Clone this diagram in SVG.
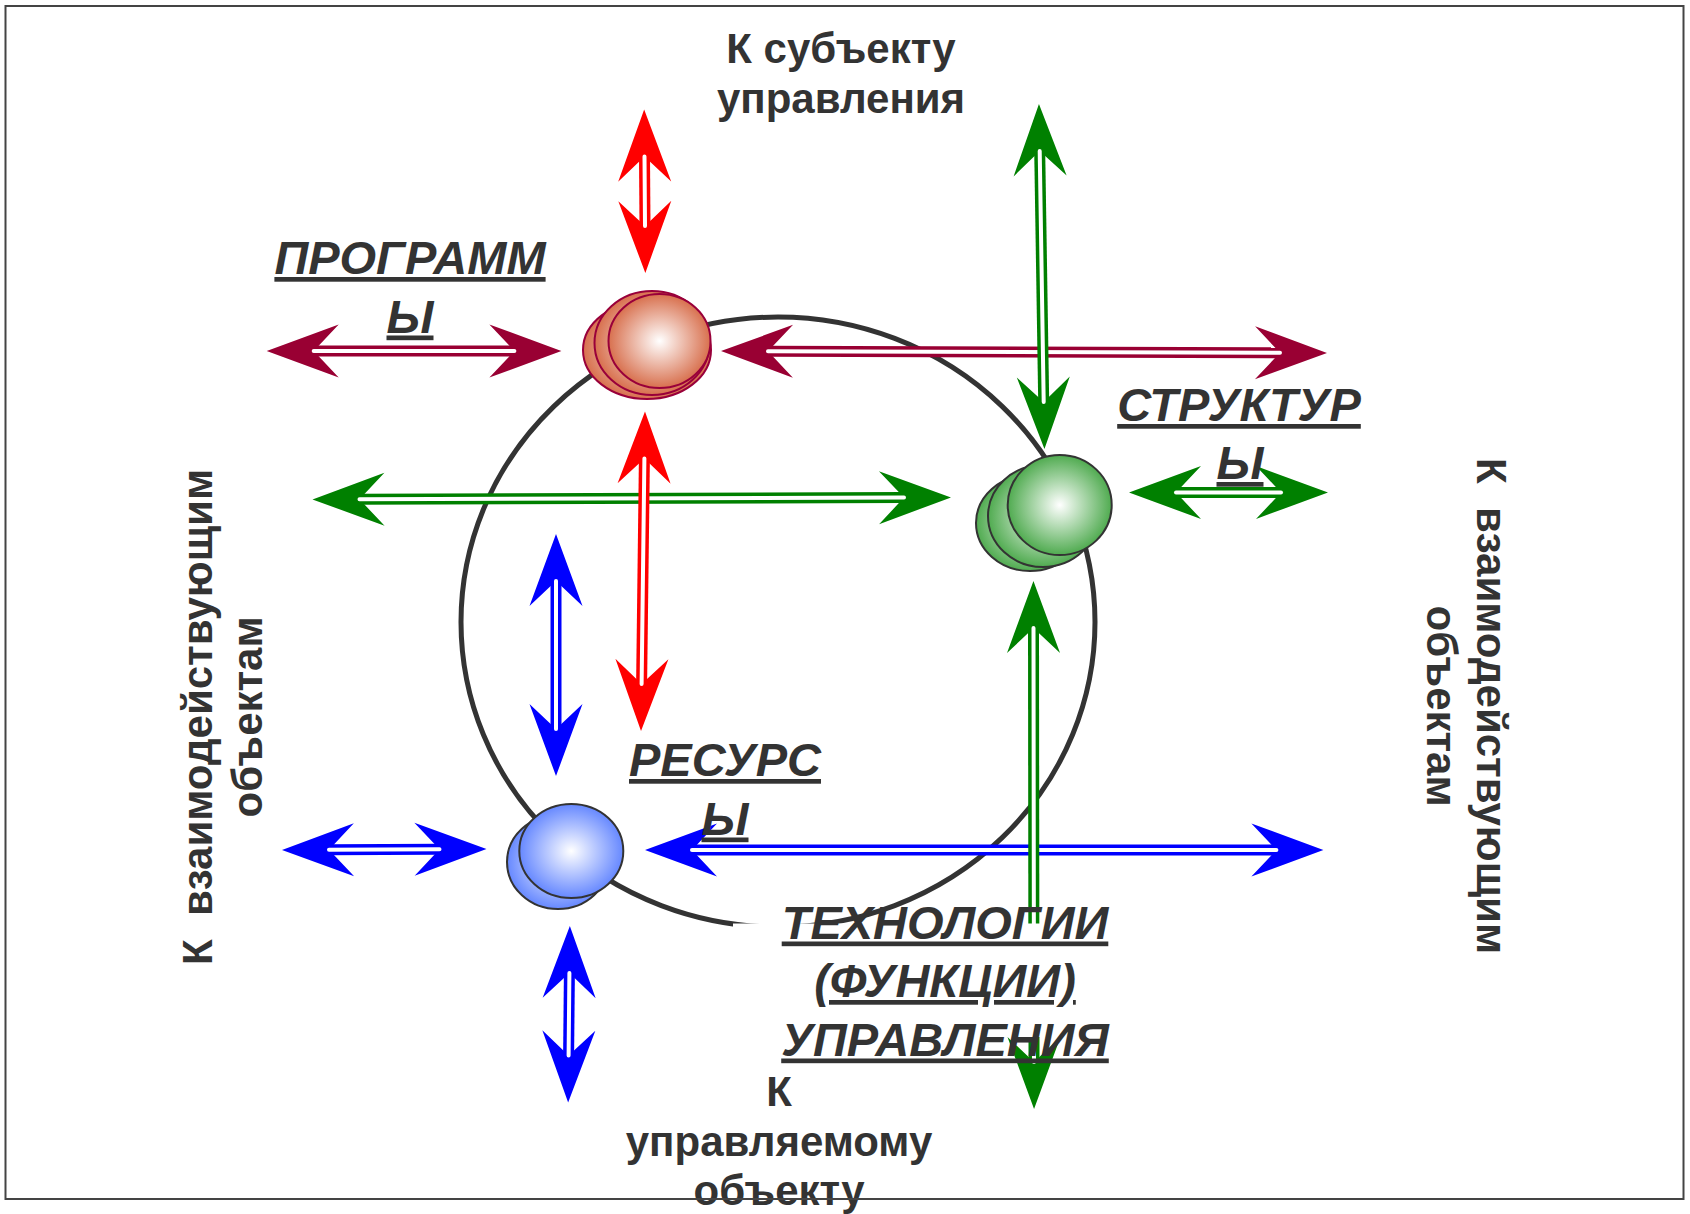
<svg xmlns="http://www.w3.org/2000/svg" width="1690" height="1214" viewBox="0 0 1690 1214">
<defs>
<style>
.bg{fill:#fff}
.frame{fill:none;stroke:#444;stroke-width:2}
.orbit{fill:none;stroke:#333;stroke-width:5}
.t{font-family:"Liberation Sans",Arial,sans-serif;font-weight:bold;font-size:42px;fill:#333;text-anchor:middle}
.lbl{font-family:"Liberation Sans",Arial,sans-serif;font-weight:bold;font-style:italic;font-size:47px;fill:#333;text-anchor:middle;text-decoration:underline;text-decoration-skip-ink:none;text-decoration-thickness:4px}
.shaft{fill:none;stroke-width:11;stroke-linecap:butt}
.gap{fill:none;stroke:#fff;stroke-width:4;stroke-linecap:round}
.s-red{stroke:#ff0000}
.s-crim{stroke:#990033}
.s-grn{stroke:#008000}
.s-blu{stroke:#0000ff}
.b-red{fill:url(#gRed);stroke:#99003a;stroke-width:2}
.b-grn{fill:url(#gGrn);stroke:#333;stroke-width:2}
.b-blu{fill:url(#gBlu);stroke:#333;stroke-width:2}
</style>
<radialGradient id="gRed" cx="50%" cy="50%" r="50%"><stop offset="0" stop-color="#ffffff"/><stop offset="1" stop-color="#d8704e"/></radialGradient>
<radialGradient id="gGrn" cx="50%" cy="50%" r="50%"><stop offset="0" stop-color="#ffffff"/><stop offset="1" stop-color="#50ab50"/></radialGradient>
<radialGradient id="gBlu" cx="50%" cy="50%" r="50%"><stop offset="0" stop-color="#ffffff"/><stop offset="1" stop-color="#6688ff"/></radialGradient>
<marker id="ah-red" markerUnits="userSpaceOnUse" viewBox="-26 -27 74 54" refX="0" refY="0" markerWidth="74" markerHeight="54" orient="auto-start-reverse"><path d="M47,0 L-25,-26.5 L0,0 L-25,26.5 Z" fill="#ff0000"/></marker>
<marker id="ah-crim" markerUnits="userSpaceOnUse" viewBox="-26 -27 74 54" refX="0" refY="0" markerWidth="74" markerHeight="54" orient="auto-start-reverse"><path d="M47,0 L-25,-26.5 L0,0 L-25,26.5 Z" fill="#990033"/></marker>
<marker id="ah-grn" markerUnits="userSpaceOnUse" viewBox="-26 -27 74 54" refX="0" refY="0" markerWidth="74" markerHeight="54" orient="auto-start-reverse"><path d="M47,0 L-25,-26.5 L0,0 L-25,26.5 Z" fill="#008000"/></marker>
<marker id="ah-blu" markerUnits="userSpaceOnUse" viewBox="-26 -27 74 54" refX="0" refY="0" markerWidth="74" markerHeight="54" orient="auto-start-reverse"><path d="M47,0 L-25,-26.5 L0,0 L-25,26.5 Z" fill="#0000ff"/></marker>
</defs>

<rect class="bg" x="0" y="0" width="1690" height="1214"/>

<g id="orbit">
<ellipse class="orbit" cx="778" cy="622" rx="317" ry="305"/>
</g>

<g id="connectors">
<g id="arrow-programs-left"><line class="shaft s-crim" x1="313.7" y1="351" x2="514.4" y2="351" marker-start="url(#ah-crim)" marker-end="url(#ah-crim)"/><line class="gap" x1="313.7" y1="351" x2="514.4" y2="351"/></g>
<g id="arrow-programs-right"><line class="shaft s-crim" x1="768" y1="351.2" x2="1280" y2="352.8" marker-start="url(#ah-crim)" marker-end="url(#ah-crim)"/><line class="gap" x1="768" y1="351.2" x2="1280" y2="352.8"/></g>
<g id="arrow-res-up"><line class="shaft s-blu" x1="556" y1="581" x2="556" y2="729" marker-start="url(#ah-blu)" marker-end="url(#ah-blu)"/><line class="gap" x1="556" y1="581" x2="556" y2="729"/></g>
<g id="arrow-res-down"><line class="shaft s-blu" x1="569.4" y1="973" x2="568.6" y2="1055.5" marker-start="url(#ah-blu)" marker-end="url(#ah-blu)"/><line class="gap" x1="569.4" y1="973" x2="568.6" y2="1055.5"/></g>
<g id="arrow-res-left"><line class="shaft s-blu" x1="329" y1="849.8" x2="439.5" y2="849.2" marker-start="url(#ah-blu)" marker-end="url(#ah-blu)"/><line class="gap" x1="329" y1="849.8" x2="439.5" y2="849.2"/></g>
<g id="arrow-res-right"><line class="shaft s-blu" x1="692" y1="850" x2="1276.4" y2="850" marker-start="url(#ah-blu)" marker-end="url(#ah-blu)"/><line class="gap" x1="692" y1="850" x2="1276.4" y2="850"/></g>
<g id="arrow-str-left"><line class="shaft s-grn" x1="359.5" y1="499.3" x2="904" y2="497.6" marker-start="url(#ah-grn)" marker-end="url(#ah-grn)"/><line class="gap" x1="359.5" y1="499.3" x2="904" y2="497.6"/></g>
<g id="arrow-programs-up"><line class="shaft s-red" x1="644.5" y1="156.6" x2="645" y2="226" marker-start="url(#ah-red)" marker-end="url(#ah-red)"/><line class="gap" x1="644.5" y1="156.6" x2="645" y2="226"/></g>
<g id="arrow-programs-down"><line class="shaft s-red" x1="644.4" y1="458.5" x2="641.6" y2="684" marker-start="url(#ah-red)" marker-end="url(#ah-red)"/><line class="gap" x1="644.4" y1="458.5" x2="641.6" y2="684"/></g>
<g id="arrow-str-right"><line class="shaft s-grn" x1="1176" y1="492.5" x2="1281" y2="492.5" marker-start="url(#ah-grn)" marker-end="url(#ah-grn)"/><line class="gap" x1="1176" y1="492.5" x2="1281" y2="492.5"/></g>
<g id="arrow-str-up"><line class="shaft s-grn" x1="1039.7" y1="151" x2="1043.7" y2="402" marker-start="url(#ah-grn)" marker-end="url(#ah-grn)"/><line class="gap" x1="1039.7" y1="151" x2="1043.7" y2="402"/></g>
<g id="arrow-str-down"><line class="shaft s-grn" x1="1033.5" y1="628" x2="1034" y2="1062" marker-start="url(#ah-grn)" marker-end="url(#ah-grn)"/><line class="gap" x1="1033.5" y1="628" x2="1034" y2="1062"/></g>
</g>

<g id="node-technologies">
<rect x="733" y="923.5" width="390" height="113.5" fill="#fff"/>
<text class="lbl" x="945" y="938.5">ТЕХНОЛОГИИ</text>
<text class="lbl" x="945" y="997">(ФУНКЦИИ)</text>
<text class="lbl" x="945" y="1055.5">УПРАВЛЕНИЯ</text>
</g>

<g id="node-programs">
<ellipse class="b-red" cx="647" cy="350" rx="64" ry="49"/>
<ellipse class="b-red" cx="652" cy="343" rx="57.5" ry="52"/>
<ellipse class="b-red" cx="659.5" cy="341" rx="51" ry="47"/>
<text class="lbl" x="410" y="274">ПРОГРАММ</text>
<text class="lbl" x="410" y="332.5">Ы</text>
</g>

<g id="node-structures">
<ellipse class="b-grn" cx="1030" cy="523" rx="54" ry="48"/>
<ellipse class="b-grn" cx="1043" cy="516" rx="55" ry="51"/>
<ellipse class="b-grn" cx="1059.7" cy="505" rx="52" ry="50"/>
<text class="lbl" x="1239" y="421">СТРУКТУР</text>
<text class="lbl" x="1240" y="479">Ы</text>
</g>

<g id="node-resources">
<ellipse class="b-blu" cx="558" cy="862" rx="51" ry="47"/>
<ellipse class="b-blu" cx="571.3" cy="851" rx="52" ry="47"/>
<text class="lbl" x="725" y="776">РЕСУРС</text>
<text class="lbl" x="725" y="834.5">Ы</text>
</g>

<g id="text-subject">
<text class="t" x="841" y="63">К субъекту</text>
<text class="t" x="841" y="113">управления</text>
</g>

<g id="text-object">
<text class="t" x="779" y="1106">К</text>
<text class="t" x="779" y="1156">управляемому</text>
<text class="t" x="779" y="1205">объекту</text>
</g>

<g id="text-left">
<text class="t" transform="translate(212,717) rotate(-90)" xml:space="preserve"><tspan x="0" y="0">К  взаимодействующим</tspan><tspan x="0" y="50">объектам</tspan></text>
</g>

<g id="text-right">
<text class="t" transform="translate(1477,706) rotate(90)" xml:space="preserve"><tspan x="0" y="0">К  взаимодействующим</tspan><tspan x="0" y="50">объектам</tspan></text>
</g>

<rect class="frame" x="5.5" y="6" width="1678" height="1193"/>
</svg>
